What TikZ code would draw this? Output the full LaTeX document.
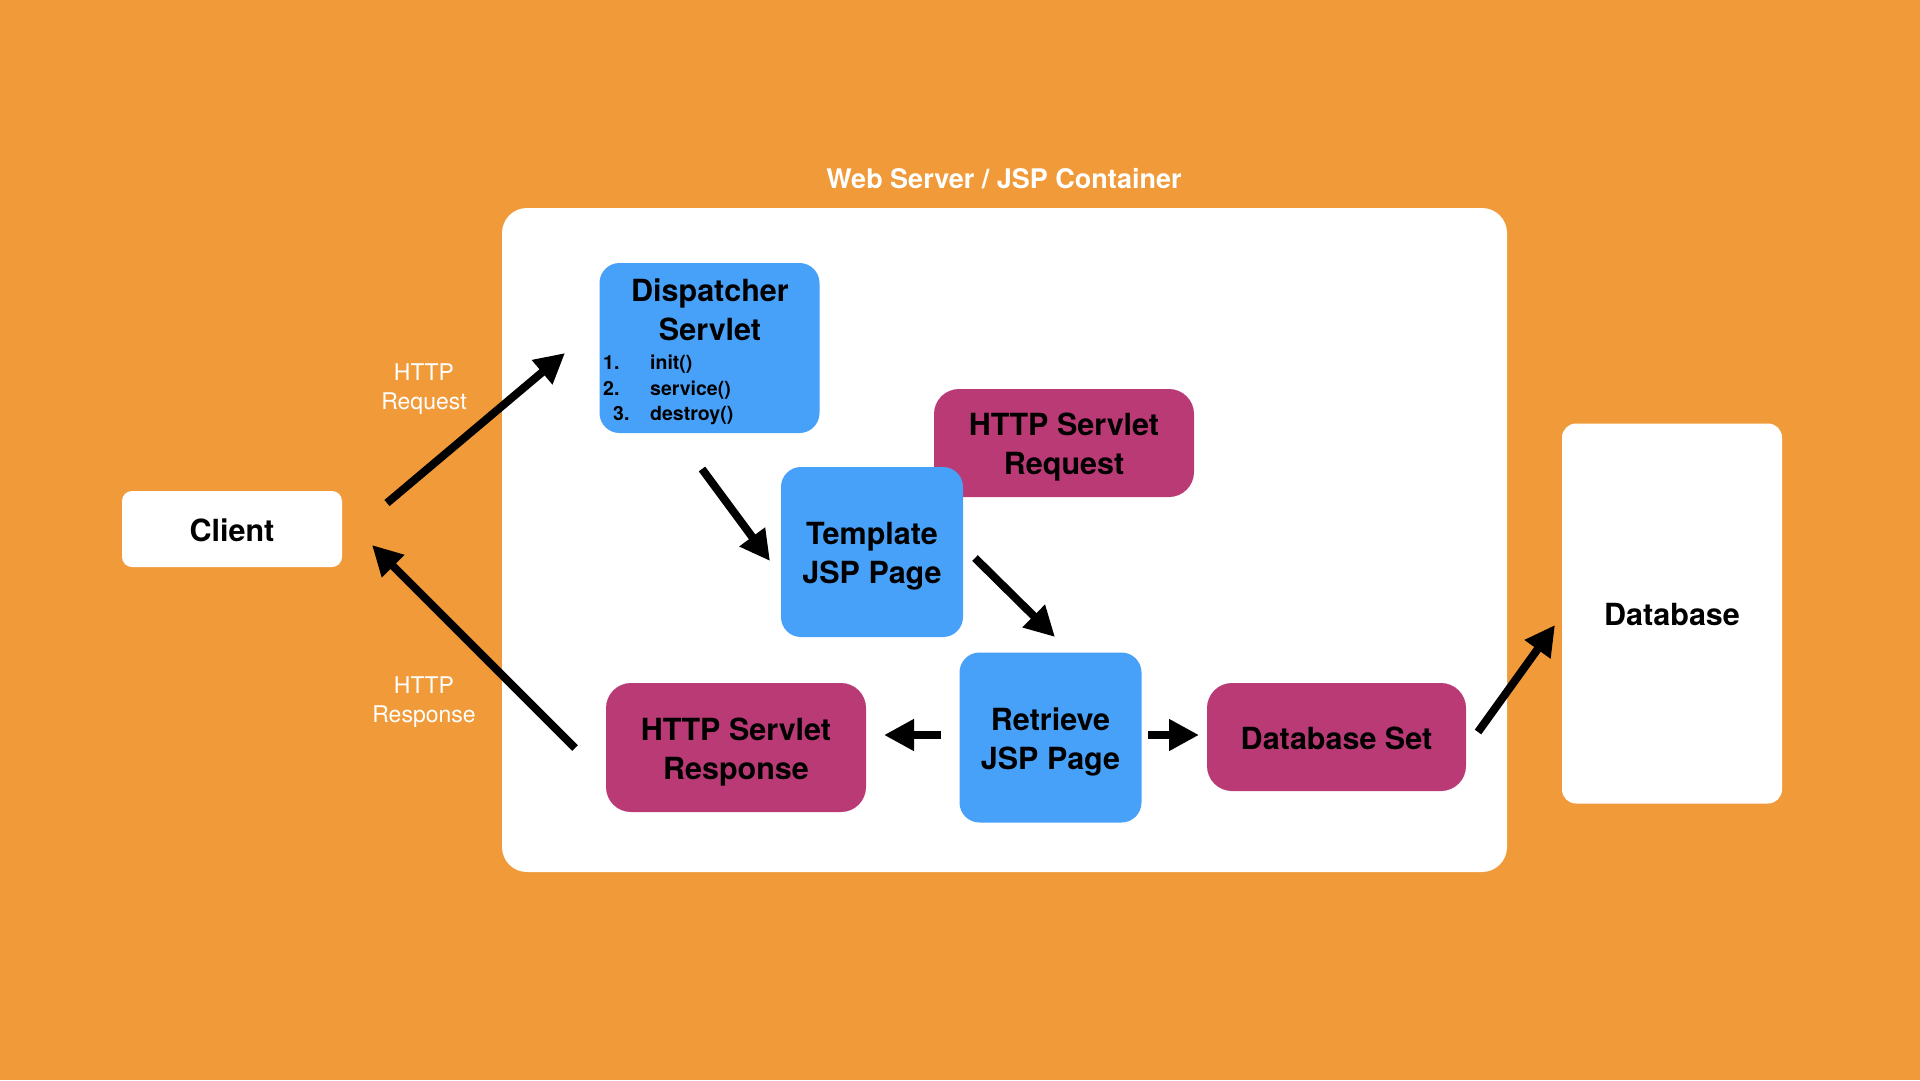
\documentclass[tikz,border=0pt]{standalone}
\usepackage{fontspec}
\setmainfont{TeX Gyre Heros}
\usetikzlibrary{arrows.meta}
\definecolor{bgorange}{HTML}{F09A39}
\definecolor{boxblue}{HTML}{48A1F8}
\definecolor{boxmag}{HTML}{BA3A76}
\begin{document}
\begin{tikzpicture}[x=1pt,y=-1pt,
  lbl/.style={font=\bfseries\fontsize{30.5}{39}\selectfont, align=center, text=black},
  bluebox/.style={fill=boxblue, rounded corners=20pt, inner sep=0pt},
  magbox/.style={fill=boxmag, rounded corners=25pt, inner sep=0pt},
  whitebox/.style={fill=white, inner sep=0pt},
  listtxt/.style={font=\bfseries\fontsize{19.5}{25}\selectfont, anchor=base west, inner sep=0pt},
  httplbl/.style={font=\fontsize{23}{29}\selectfont, align=center, text=white},
  arr/.style={line width=8pt, -{Triangle[length=30pt,width=30pt]}}
]
\fill[bgorange] (0,0) rectangle (1920,1080);
\useasboundingbox (0,0) rectangle (1920,1080);

% container
\node[fill=white, rounded corners=25pt, inner sep=0pt, minimum width=1005pt, minimum height=664pt] (cont) at (1004.5,540) {};
\node[font=\bfseries\fontsize{27}{30}\selectfont, text=white] (title) at (1004,179) {Web Server / JSP Container};

% outside boxes
\node[whitebox, rounded corners=10pt, minimum width=220pt, minimum height=76pt] (client) at (232,529) {};
\node[lbl] (clientT) at ([yshift=-1.5pt]client.center) {Client};
\node[whitebox, rounded corners=14pt, minimum width=220pt, minimum height=380pt] (db) at (1672,613.5) {};
\node[lbl] (dbT) at ([yshift=-1.5pt]db.center) {Database};

% dispatcher
\node[bluebox, minimum width=220pt, minimum height=170pt] (disp) at (709.5,348) {};
\node[lbl, anchor=base, inner sep=0pt] (dispA) at (710,301) {Dispatcher};
\node[lbl, anchor=base, inner sep=0pt] (dispB) at (710,340) {Servlet};
\node[listtxt] (n1) at (603,369) {1.};
\node[listtxt] (i1) at (650,369) {init()};
\node[listtxt] (n2) at (603,395) {2.};
\node[listtxt] (i2) at (650,395) {service()};
\node[listtxt] (n3) at (613,420) {3.};
\node[listtxt] (i3) at (650,420) {destroy()};

% request (behind template)
\node[magbox, minimum width=260pt, minimum height=108pt] (req) at (1064,443) {};
\node[lbl] (reqT) at ([yshift=-4.5pt]req.center) {HTTP Servlet\\Request};
\node[bluebox, minimum width=182pt, minimum height=170pt] (tmpl) at (872,552) {};
\node[lbl] (tmplT) at ([yshift=-4pt]tmpl.center) {Template\\JSP Page};
\node[bluebox, minimum width=182pt, minimum height=170pt] (retr) at (1050.5,737.5) {};
\node[lbl] (retrT) at ([yshift=-4pt]retr.center) {Retrieve\\JSP Page};
\node[magbox, minimum width=260pt, minimum height=129pt] (resp) at (736,747.5) {};
\node[lbl] (respT) at ([yshift=-5pt]resp.center) {HTTP Servlet\\Response};
\node[magbox, minimum width=259pt, minimum height=108pt] (dbset) at (1336.5,737) {};
\node[lbl] (dbsetT) at ([yshift=-1.5pt]dbset.center) {Database Set};

% http labels
\node[httplbl] (hreq) at (424,389) {HTTP\\Request};
\node[httplbl] (hres) at (424,702) {HTTP\\Response};

% arrow end points
\coordinate (reqA) at (387,503);
\coordinate (reqB) at (565,353);
\coordinate (resA) at (575,748);
\coordinate (resB) at (372,545);
\coordinate (dtA) at (702,469);
\coordinate (dtB) at (770,561);
\coordinate (trA) at (975,558);
\coordinate (trB) at (1055,637);
\coordinate (rsA) at (941,735);
\coordinate (rsB) at (884,735);
\coordinate (rdA) at (1148,735);
\coordinate (rdB) at (1199,735);
\coordinate (sdA) at (1478,732);
\coordinate (sdB) at (1555,625);

\draw[arr] (reqA) -- (reqB);
\draw[arr] (resA) -- (resB);
\draw[arr] (dtA) -- (dtB);
\draw[arr] (trA) -- (trB);
\draw[arr] (rsA) -- (rsB);
\draw[arr] (rdA) -- (rdB);
\draw[arr] (sdA) -- (sdB);
\end{tikzpicture}
\end{document}
